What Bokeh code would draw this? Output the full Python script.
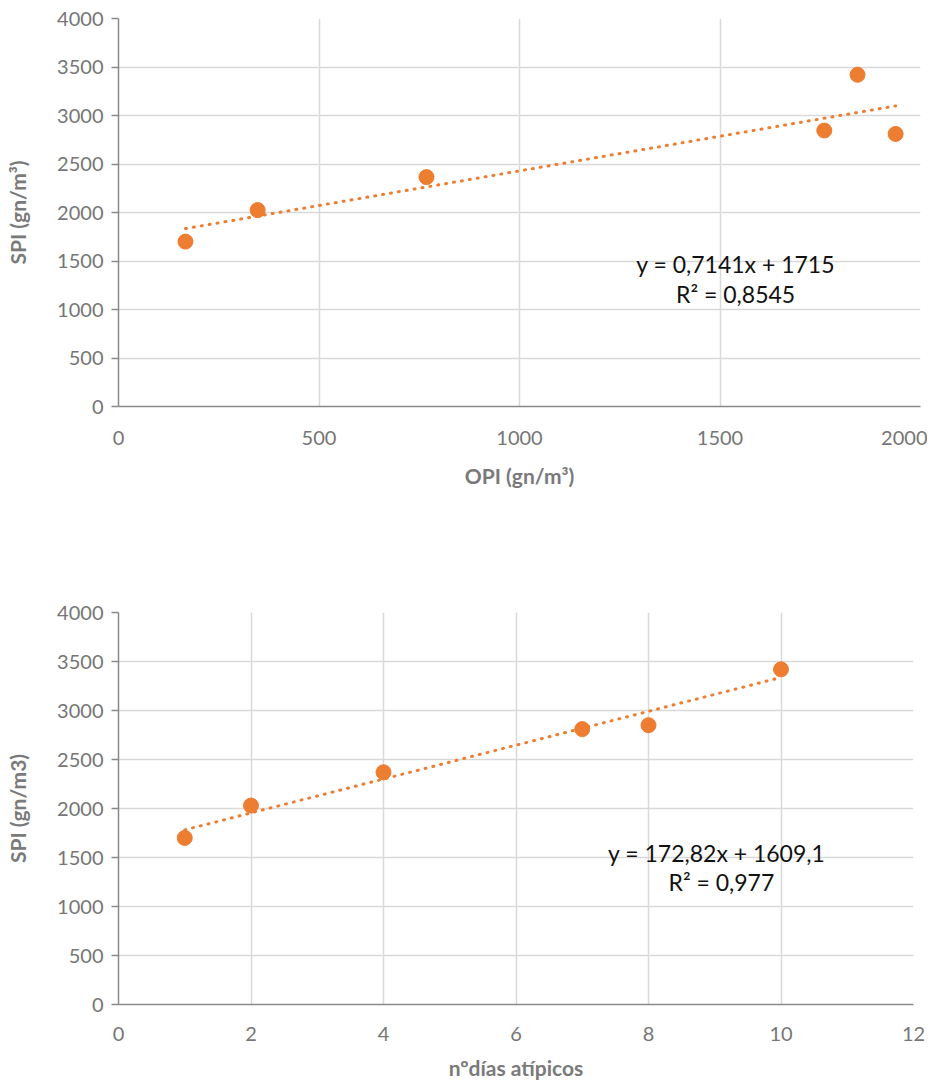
from bokeh.plotting import figure
from bokeh.layouts import column
from bokeh.models import Label, FixedTicker
from bokeh.embed import file_html
from bokeh.resources import INLINE

# ---- data ----
opi = [167, 347, 768, 1760, 1843, 1938]
spi_top = [1700, 2025, 2365, 2845, 3420, 2810]
top_slope, top_intercept = 0.7141, 1715
top_eq = "y = 0,7141x + 1715"
top_r2 = "R² = 0,8545"

dias = [1, 2, 4, 7, 8, 10]
spi_bottom = [1700, 2030, 2370, 2810, 2850, 3420]
bot_slope, bot_intercept = 172.82, 1609.1
bot_eq = "y = 172,82x + 1609,1"
bot_r2 = "R² = 0,977"

x_ticks_top = [0, 500, 1000, 1500, 2000]
x_ticks_bot = [0, 2, 4, 6, 8, 10, 12]
y_ticks = [0, 500, 1000, 1500, 2000, 2500, 3000, 3500, 4000]

ORANGE = "#ED7D31"
TICK_COL = "#767676"
TITLE_COL = "#7a7a7a"
FONT = "Lato"


def style(p, xlabel, ylabel, xticks):
    p.xaxis.ticker = FixedTicker(ticks=xticks)
    p.yaxis.ticker = FixedTicker(ticks=y_ticks)
    p.xaxis.axis_label = xlabel
    p.yaxis.axis_label = ylabel
    for ax in (p.xaxis, p.yaxis):
        ax.axis_label_text_font = FONT
        ax.axis_label_text_font_style = "bold"
        ax.axis_label_text_font_size = "21px"
        ax.axis_label_text_color = TITLE_COL
        ax.major_label_text_font = FONT
        ax.major_label_text_font_size = "20px"
        ax.major_label_text_color = TICK_COL
        ax.axis_line_color = "#8a8a8a"
        ax.axis_line_width = 1.5
        ax.minor_tick_line_color = None
        ax.major_tick_line_color = "#8a8a8a"
        ax.major_tick_line_width = 1.5
    p.xaxis.major_tick_out = 0
    p.xaxis.major_tick_in = 0
    p.yaxis.major_tick_out = 7
    p.yaxis.major_tick_in = 0
    p.xaxis.major_label_standoff = 24
    p.yaxis.major_label_standoff = 8
    p.yaxis.axis_label_standoff = 24
    p.grid.grid_line_color = "#d9d9d9"
    p.grid.grid_line_width = 1.5
    p.outline_line_color = None
    p.background_fill_color = "white"
    p.border_fill_color = "white"


# ---- top chart ----
p1 = figure(frame_width=802, frame_height=388, x_range=(0, 2000), y_range=(0, 4000),
            min_border_left=114, min_border_right=9, min_border_top=18, min_border_bottom=94,
            output_backend="svg", toolbar_location=None)
style(p1, "OPI (gn/m³)", "SPI (gn/m³)", x_ticks_top)
p1.xaxis.axis_label_standoff = 15
tx1 = [min(opi), max(opi)]
ty1 = [top_slope * v + top_intercept for v in tx1]
p1.line(tx1, ty1, line_color=ORANGE, line_width=3, line_dash="1 7", line_cap="round")
p1.scatter(opi, spi_top, size=15, color=ORANGE, line_color=ORANGE)
p1.add_layout(Label(x=1539, y=1464, text=top_eq, text_align="center", text_baseline="middle",
                    text_font=FONT, text_font_size="23px", text_color="#111111"))
p1.add_layout(Label(x=1539, y=1155, text=top_r2, text_align="center", text_baseline="middle",
                    text_font=FONT, text_font_size="23px", text_color="#111111"))

# ---- bottom chart ----
p2 = figure(frame_width=795, frame_height=392, x_range=(0, 12), y_range=(0, 4000),
            min_border_left=118, min_border_right=12, min_border_top=112, min_border_bottom=82,
            output_backend="svg", toolbar_location=None)
style(p2, "nºdías atípicos", "SPI (gn/m3)", x_ticks_bot)
p2.xaxis.major_label_standoff = 22
p2.xaxis.axis_label_standoff = 11
tx2 = [min(dias), max(dias)]
ty2 = [bot_slope * v + bot_intercept for v in tx2]
p2.line(tx2, ty2, line_color=ORANGE, line_width=3, line_dash="1 7", line_cap="round")
p2.scatter(dias, spi_bottom, size=15, color=ORANGE, line_color=ORANGE)
p2.add_layout(Label(x=9.03, y=1551, text=bot_eq, text_align="center", text_baseline="middle",
                    text_font=FONT, text_font_size="23px", text_color="#111111"))
p2.add_layout(Label(x=9.1, y=1245, text=bot_r2, text_align="center", text_baseline="middle",
                    text_font=FONT, text_font_size="23px", text_color="#111111"))

layout = column(p1, p2, spacing=0)
open("out.html", "w").write(file_html(layout, INLINE))
